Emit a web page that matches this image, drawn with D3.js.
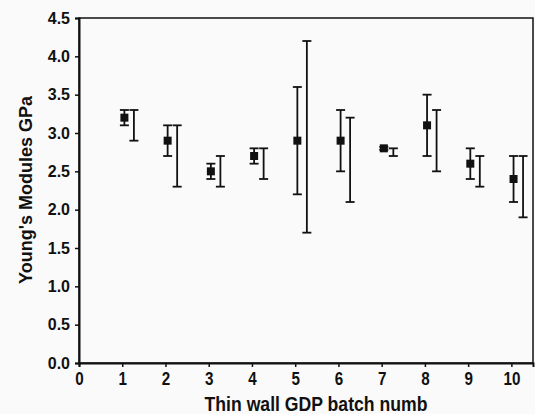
<!DOCTYPE html>
<html>
<head>
<meta charset="utf-8">
<script src="https://cdn.jsdelivr.net/npm/d3@7"></script>
<style>
  body { margin: 0; background: #fafafa; }
  svg { display: block; }
</style>
</head>
<body>
<svg></svg>
<script>
const w = 535;
const h = 414;

// batch numbers and the two sets of measurements
const batches = [1, 2, 3, 4, 5, 6, 7, 8, 9, 10];
const meanA = [3.2, 2.9, 2.5, 2.7, 2.9, 2.9, 2.8, 3.1, 2.6, 2.4];
const lowA = [3.1, 2.7, 2.4, 2.6, 2.2, 2.5, 2.78, 2.7, 2.4, 2.1];
const highA = [3.3, 3.1, 2.6, 2.8, 3.6, 3.3, 2.82, 3.5, 2.8, 2.7];
const lowB = [2.9, 2.3, 2.3, 2.4, 1.7, 2.1, 2.7, 2.5, 2.3, 1.9];
const highB = [3.3, 3.1, 2.7, 2.8, 4.2, 3.2, 2.8, 3.3, 2.7, 2.7];

const xTicks = [0, 1, 2, 3, 4, 5, 6, 7, 8, 9, 10];
const yTicks = [0, 0.5, 1, 1.5, 2, 2.5, 3, 3.5, 4, 4.5];

const padL = 79, padR = 533, padT = 18, padB = 363;
const offA = 0.05, offB = 0.27;
const cap = 4.5;

const canvas = d3.select('svg').attr('width', w).attr('height', h);

const xScale = d3.scaleLinear().domain([0, 10.5]).range([padL, padR]);
const yScale = d3.scaleLinear().domain([0, 4.5]).range([padB, padT]);

// frame
canvas.append('rect')
  .attr('x', padL).attr('y', padT)
  .attr('width', padR - padL).attr('height', padB - padT)
  .attr('fill', 'none').attr('stroke', '#111').attr('stroke-width', 1.5);

// axes
const xAxis = d3.axisBottom(xScale).tickValues(xTicks).tickFormat(d3.format('d')).tickSize(4).tickPadding(5);
const yAxis = d3.axisLeft(yScale).tickValues(yTicks).tickFormat(d3.format('.1f')).tickSize(4).tickPadding(5);

const gx = canvas.append('g').attr('transform', `translate(0,${padB})`).call(xAxis);
const gy = canvas.append('g').attr('transform', `translate(${padL},0)`).call(yAxis);

[gx, gy].forEach(g => {
  g.select('.domain').attr('stroke', '#111').attr('stroke-width', 2);
  g.selectAll('.tick line').attr('stroke', '#111').attr('stroke-width', 1.5);
});
// the scanned x labels are tall and narrow
gx.selectAll('.tick text')
  .attr('fill', '#111')
  .attr('transform', 'scale(0.8,1)')
  .style('font', 'bold 19px "Liberation Sans", Arial, sans-serif');
gy.selectAll('.tick text')
  .attr('fill', '#111')
  .style('font', 'bold 16px "Liberation Sans", Arial, sans-serif');

// error bars
const drawBar = (x, lo, hi) => {
  const g = canvas.append('g').attr('stroke', '#111').attr('stroke-width', 1.8);
  g.append('line').attr('x1', x).attr('x2', x).attr('y1', yScale(lo)).attr('y2', yScale(hi));
  g.append('line').attr('x1', x - cap).attr('x2', x + cap).attr('y1', yScale(lo)).attr('y2', yScale(lo));
  g.append('line').attr('x1', x - cap).attr('x2', x + cap).attr('y1', yScale(hi)).attr('y2', yScale(hi));
};

batches.forEach((b, i) => {
  drawBar(xScale(b + offA), lowA[i], highA[i]);
  drawBar(xScale(b + offB), lowB[i], highB[i]);
});

canvas.selectAll('rect.mark')
  .data(batches)
  .enter()
  .append('rect')
  .attr('class', 'mark')
  .attr('x', d => xScale(d + offA) - 4)
  .attr('y', (d, i) => yScale(meanA[i]) - 4)
  .attr('width', 8)
  .attr('height', 8)
  .attr('fill', '#111');

// axis titles
canvas.append('text')
  .attr('transform', 'translate(316,411) scale(0.84,1)')
  .attr('text-anchor', 'middle')
  .attr('fill', '#111')
  .style('font', 'bold 21px "Liberation Sans", Arial, sans-serif')
  .text('Thin wall GDP batch numb');

canvas.append('text')
  .attr('transform', 'translate(32,190) rotate(-90)')
  .attr('text-anchor', 'middle')
  .attr('fill', '#111')
  .style('font', 'bold 18px "Liberation Sans", Arial, sans-serif')
  .text("Young's Modules GPa");
</script>
</body>
</html>
